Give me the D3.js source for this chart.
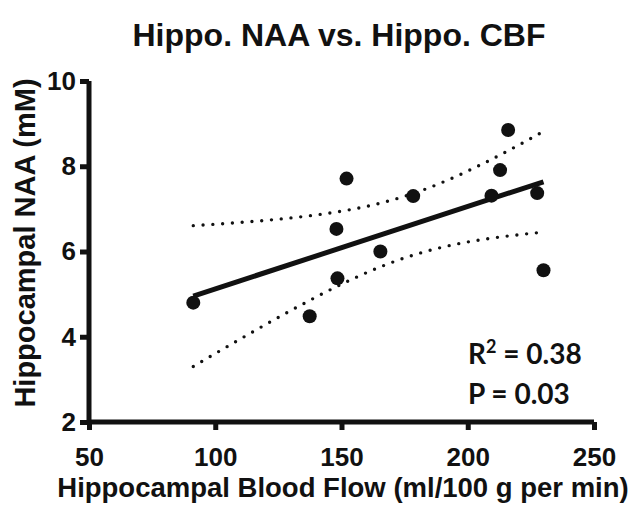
<!DOCTYPE html>
<html>
<head>
<meta charset="utf-8">
<script src="https://cdn.jsdelivr.net/npm/d3@7"></script>
<style>
  html, body { margin: 0; padding: 0; background: #fff; }
  svg { display: block; }
</style>
</head>
<body>
<svg id="chart" width="637" height="505"></svg>
<script>
// ---- data ----
const bloodFlow = [91.3, 137.4, 148.0, 148.4, 152.0, 165.4, 178.4, 209.4, 212.8, 216.0, 227.5, 230.0];
const naa       = [4.80, 4.48, 6.53, 5.37, 7.71, 6.00, 7.30, 7.31, 7.91, 8.85, 7.37, 5.56];
const xTicks = [50, 100, 150, 200, 250];
const yTicks = [2, 4, 6, 8, 10];
const titleText = "Hippo. NAA vs. Hippo. CBF";
const xLabel = "Hippocampal Blood Flow (ml/100 g per min)";
const yLabel = "Hippocampal NAA (mM)";
const r2Text = "0.38";
const pText = "0.03";
const tCrit = 2.228; // t(0.975, df = 10)

// ---- layout ----
const svg = d3.select("#chart");
const x = d3.scaleLinear().domain([50, 250]).range([89, 594]);
const y = d3.scaleLinear().domain([2, 10]).range([422, 81]);
const font = "'Liberation Sans', Arial, Helvetica, sans-serif";

// ---- regression + 95% confidence band ----
const n = bloodFlow.length;
const mx = d3.mean(bloodFlow), my = d3.mean(naa);
let sxx = 0, sxy = 0;
for (let i = 0; i < n; i++) { sxx += (bloodFlow[i]-mx)**2; sxy += (bloodFlow[i]-mx)*(naa[i]-my); }
const slope = sxy / sxx, intercept = my - slope * mx;
let sse = 0;
for (let i = 0; i < n; i++) sse += (naa[i] - (intercept + slope*bloodFlow[i]))**2;
const s = Math.sqrt(sse / (n - 2));
const xMin = d3.min(bloodFlow), xMax = d3.max(bloodFlow);
const xs = d3.range(0, 61).map(k => xMin + (xMax - xMin) * k / 60);
const half = xv => tCrit * s * Math.sqrt(1/n + (xv-mx)**2 / sxx);
const upper = xs.map(xv => [xv, intercept + slope*xv + half(xv)]);
const lower = xs.map(xv => [xv, intercept + slope*xv - half(xv)]);
const line = d3.line().x(d => x(d[0])).y(d => y(d[1])).curve(d3.curveMonotoneX);

[upper, lower].forEach(band => {
  svg.append("path").datum(band).attr("d", line)
    .attr("fill", "none").attr("stroke", "#111").attr("stroke-width", 3.4)
    .attr("stroke-linecap", "round").attr("stroke-dasharray", "0 9.8");
});

svg.append("path").datum([[xMin, intercept + slope*xMin], [xMax, intercept + slope*xMax]])
  .attr("d", line).attr("fill", "none").attr("stroke", "#111").attr("stroke-width", 5);

// ---- points ----
svg.append("g").selectAll("circle").data(bloodFlow).join("circle")
  .attr("cx", d => x(d)).attr("cy", (d, i) => y(naa[i])).attr("r", 7)
  .attr("fill", "#111");

// ---- axes ----
const xAxis = d3.axisBottom(x).tickValues(xTicks).tickSize(8).tickPadding(18).tickFormat(d3.format("d"));
const yAxis = d3.axisLeft(y).tickValues(yTicks).tickSize(9).tickPadding(4).tickFormat(d3.format("d"));

const gx = svg.append("g").attr("transform", `translate(0,${y(2)})`).call(xAxis);
const gy = svg.append("g").attr("transform", `translate(${x(50)},0)`).call(yAxis);
[gx, gy].forEach(g => {
  g.select(".domain").attr("stroke", "#111").attr("stroke-width", 5);
  g.selectAll(".tick line").attr("stroke", "#111").attr("stroke-width", 5);
  g.selectAll(".tick text").attr("fill", "#111")
    .style("font-family", font).style("font-weight", "bold").style("font-size", "26px");
});
gx.select(".domain").attr("d", `M${x(50)},0H${x(250)}`);
gy.select(".domain").attr("d", `M0,${y(2)}V${y(10)}`);

// ---- titles ----
svg.append("text").text(titleText)
  .attr("x", 339).attr("y", 46).attr("text-anchor", "middle")
  .style("font-family", font).style("font-weight", "bold").style("font-size", "32px").attr("fill", "#111");

svg.append("text").text(xLabel)
  .attr("x", 343).attr("y", 497).attr("text-anchor", "middle")
  .style("font-family", font).style("font-weight", "bold").style("font-size", "27.5px").attr("fill", "#111");

svg.append("text").text(yLabel)
  .attr("transform", `translate(35,243) rotate(-90)`).attr("text-anchor", "middle")
  .style("font-family", font).style("font-weight", "bold").style("font-size", "29px").attr("fill", "#111");

// ---- stats annotation ----
const statFont = "Lato, 'Open Sans', sans-serif";
const r2 = svg.append("text").attr("x", 468).attr("y", 364)
  .style("font-family", statFont).style("font-weight", "bold").style("font-size", "28px").attr("fill", "#111");
r2.append("tspan").text("R");
r2.append("tspan").text("2").attr("dy", -11).style("font-size", "18px");
r2.append("tspan").text(" = " + r2Text).attr("dy", 11);

svg.append("text").attr("x", 468).attr("y", 404).text("P = " + pText)
  .style("font-family", statFont).style("font-weight", "bold").style("font-size", "28px").attr("fill", "#111");
</script>
</body>
</html>
